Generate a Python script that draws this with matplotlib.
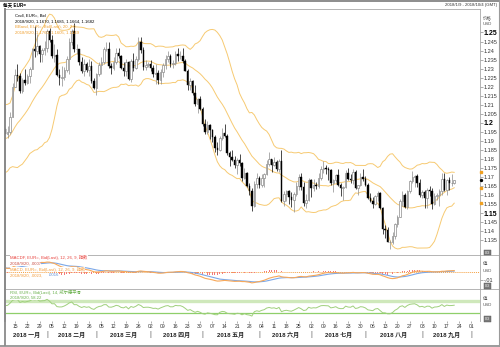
import numpy as np
import pandas as pd
import matplotlib
matplotlib.use('Agg')
import matplotlib.pyplot as plt
from matplotlib.lines import Line2D
from matplotlib.transforms import blended_transform_factory as btf

plt.rcParams['font.family'] = ['Liberation Sans', 'Noto Sans CJK SC', 'DejaVu Sans']

# ---------------- data (EUR= daily bid, 2018/1/9 - 2018/9/20) ----------------
opens = [
    # Jan
    1.1968, 1.1937, 1.1948, 1.2033, 1.2200, 1.2264, 1.2262, 1.2178, 1.2238, 1.2222, 1.2260, 1.2300, 1.2408, 1.2397, 1.2428, 1.2383, 1.2403,
    # Feb
    1.2414, 1.2510, 1.2458, 1.2372, 1.2377, 1.2266, 1.2250, 1.2253, 1.2292, 1.2354, 1.2448, 1.2507, 1.2406, 1.2407, 1.2336, 1.2286, 1.2327, 1.2295, 1.2317, 1.2233,
    # Mar
    1.2194, 1.2269, 1.2318, 1.2337, 1.2406, 1.2410, 1.2313, 1.2306, 1.2337, 1.2388, 1.2368, 1.2306, 1.2288, 1.2336, 1.2240, 1.2341, 1.2301, 1.2354, 1.2446, 1.2404, 1.2308, 1.2322,
    # Apr
    1.2323, 1.2302, 1.2269, 1.2276, 1.2238, 1.2281, 1.2318, 1.2356, 1.2370, 1.2328, 1.2330, 1.2380, 1.2370, 1.2372, 1.2345, 1.2289, 1.2210, 1.2232, 1.2165, 1.2103, 1.2130,
    # May
    1.2079, 1.1991, 1.1951, 1.1988, 1.1960, 1.1920, 1.1863, 1.1852, 1.1917, 1.1943, 1.1926, 1.1833, 1.1809, 1.1795, 1.1768, 1.1792, 1.1780, 1.1694, 1.1720, 1.1653, 1.1623, 1.1538, 1.1663,
    # Jun
    1.1693, 1.1658, 1.1694, 1.1716, 1.1775, 1.1798, 1.1769, 1.1781, 1.1747, 1.1791, 1.1570, 1.1608, 1.1624, 1.1590, 1.1571, 1.1605, 1.1653, 1.1701, 1.1644, 1.1554, 1.1572,
    # Jul
    1.1684, 1.1640, 1.1658, 1.1650, 1.1695, 1.1744, 1.1751, 1.1745, 1.1741, 1.1670, 1.1685, 1.1710, 1.1658, 1.1640, 1.1643, 1.1720, 1.1691, 1.1684, 1.1728, 1.1640, 1.1657, 1.1700,
    # Aug
    1.1691, 1.1659, 1.1585, 1.1568, 1.1550, 1.1597, 1.1610, 1.1527, 1.1411, 1.1405, 1.1343, 1.1343, 1.1374, 1.1439, 1.1482, 1.1570, 1.1600, 1.1537, 1.1621, 1.1680, 1.1698, 1.1707, 1.1670,
    # Sep
    1.1600, 1.1620, 1.1582, 1.1628, 1.1624, 1.1552, 1.1594, 1.1600, 1.1624, 1.1690, 1.1626, 1.1685, 1.1667, 1.1670,
]
highs = [
    1.1979, 1.1985, 1.2060, 1.2219, 1.2296, 1.2323, 1.2276, 1.2250, 1.2297, 1.2268, 1.2310, 1.2414, 1.2537, 1.2493, 1.2433, 1.2414, 1.2451,
    1.2519, 1.2523, 1.2484, 1.2436, 1.2410, 1.2299, 1.2314, 1.2307, 1.2370, 1.2470, 1.2521, 1.2555, 1.2437, 1.2411, 1.2362, 1.2352, 1.2337, 1.2354, 1.2343, 1.2246,
    1.2274, 1.2335, 1.2365, 1.2417, 1.2446, 1.2447, 1.2333, 1.2363, 1.2412, 1.2413, 1.2376, 1.2336, 1.2354, 1.2345, 1.2351, 1.2388, 1.2370, 1.2476, 1.2476, 1.2417, 1.2348, 1.2336,
    1.2346, 1.2320, 1.2324, 1.2290, 1.2296, 1.2330, 1.2378, 1.2396, 1.2381, 1.2346, 1.2396, 1.2414, 1.2398, 1.2414, 1.2352, 1.2296, 1.2251, 1.2239, 1.2209, 1.2140, 1.2147,
    1.2090, 1.2023, 1.2013, 1.1995, 1.1966, 1.1934, 1.1896, 1.1927, 1.1973, 1.1996, 1.1937, 1.1842, 1.1849, 1.1815, 1.1806, 1.1830, 1.1781, 1.1749, 1.1727, 1.1666, 1.1640, 1.1676, 1.1723,
    1.1706, 1.1719, 1.1722, 1.1796, 1.1840, 1.1799, 1.1809, 1.1795, 1.1801, 1.1852, 1.1625, 1.1628, 1.1628, 1.1620, 1.1620, 1.1675, 1.1717, 1.1723, 1.1675, 1.1605, 1.1697,
    1.1692, 1.1690, 1.1673, 1.1720, 1.1764, 1.1791, 1.1765, 1.1758, 1.1747, 1.1689, 1.1719, 1.1744, 1.1670, 1.1652, 1.1739, 1.1750, 1.1717, 1.1745, 1.1742, 1.1658, 1.1720, 1.1747,
    1.1707, 1.1668, 1.1614, 1.1589, 1.1601, 1.1623, 1.1620, 1.1537, 1.1434, 1.1425, 1.1350, 1.1397, 1.1445, 1.1492, 1.1579, 1.1623, 1.1614, 1.1631, 1.1686, 1.1733, 1.1709, 1.1719, 1.1687,
    1.1629, 1.1628, 1.1640, 1.1653, 1.1642, 1.1611, 1.1612, 1.1634, 1.1720, 1.1721, 1.1690, 1.1700, 1.1718, 1.1685,
]
lows = [
    1.1916, 1.1916, 1.1936, 1.2030, 1.2198, 1.2229, 1.2165, 1.2166, 1.2210, 1.2215, 1.2221, 1.2298, 1.2366, 1.2377, 1.2338, 1.2335, 1.2378,
    1.2390, 1.2447, 1.2361, 1.2338, 1.2262, 1.2207, 1.2206, 1.2235, 1.2281, 1.2270, 1.2430, 1.2392, 1.2379, 1.2319, 1.2276, 1.2260, 1.2283, 1.2260, 1.2218, 1.2189,
    1.2155, 1.2257, 1.2273, 1.2324, 1.2397, 1.2302, 1.2273, 1.2292, 1.2325, 1.2360, 1.2298, 1.2259, 1.2261, 1.2236, 1.2228, 1.2289, 1.2297, 1.2341, 1.2388, 1.2291, 1.2290, 1.2310,
    1.2285, 1.2255, 1.2215, 1.2215, 1.2215, 1.2256, 1.2298, 1.2336, 1.2310, 1.2302, 1.2320, 1.2345, 1.2352, 1.2334, 1.2285, 1.2183, 1.2183, 1.2155, 1.2095, 1.2055, 1.2070,
    1.1985, 1.1938, 1.1938, 1.1911, 1.1895, 1.1838, 1.1822, 1.1844, 1.1903, 1.1923, 1.1822, 1.1763, 1.1789, 1.1750, 1.1717, 1.1760, 1.1676, 1.1687, 1.1645, 1.1603, 1.1510, 1.1532, 1.1640,
    1.1640, 1.1645, 1.1644, 1.1710, 1.1764, 1.1727, 1.1760, 1.1731, 1.1726, 1.1561, 1.1542, 1.1568, 1.1553, 1.1532, 1.1508, 1.1593, 1.1630, 1.1631, 1.1541, 1.1527, 1.1565,
    1.1592, 1.1621, 1.1632, 1.1639, 1.1685, 1.1722, 1.1717, 1.1686, 1.1655, 1.1616, 1.1675, 1.1648, 1.1595, 1.1575, 1.1637, 1.1685, 1.1669, 1.1660, 1.1633, 1.1603, 1.1652, 1.1680,
    1.1652, 1.1579, 1.1561, 1.1530, 1.1547, 1.1570, 1.1522, 1.1386, 1.1365, 1.1340, 1.1301, 1.1332, 1.1356, 1.1422, 1.1477, 1.1542, 1.1528, 1.1526, 1.1611, 1.1665, 1.1644, 1.1643, 1.1588,
    1.1582, 1.1531, 1.1529, 1.1593, 1.1525, 1.1545, 1.1571, 1.1540, 1.1602, 1.1621, 1.1600, 1.1627, 1.1652, 1.1664,
]
closes = [
    1.1937, 1.1948, 1.2033, 1.2200, 1.2264, 1.2262, 1.2178, 1.2238, 1.2222, 1.2260, 1.2300, 1.2408, 1.2397, 1.2428, 1.2383, 1.2403, 1.2414,
    1.2510, 1.2458, 1.2372, 1.2377, 1.2266, 1.2250, 1.2253, 1.2292, 1.2354, 1.2448, 1.2507, 1.2406, 1.2407, 1.2336, 1.2286, 1.2327, 1.2295, 1.2317, 1.2233, 1.2194,
    1.2269, 1.2318, 1.2337, 1.2406, 1.2410, 1.2313, 1.2306, 1.2337, 1.2388, 1.2368, 1.2306, 1.2288, 1.2336, 1.2240, 1.2341, 1.2301, 1.2354, 1.2446, 1.2404, 1.2308, 1.2322, 1.2323,
    1.2302, 1.2269, 1.2276, 1.2238, 1.2281, 1.2318, 1.2356, 1.2370, 1.2328, 1.2330, 1.2380, 1.2370, 1.2372, 1.2345, 1.2289, 1.2210, 1.2232, 1.2165, 1.2103, 1.2130, 1.2079,
    1.1991, 1.1951, 1.1988, 1.1960, 1.1920, 1.1863, 1.1852, 1.1917, 1.1943, 1.1926, 1.1833, 1.1809, 1.1795, 1.1768, 1.1792, 1.1780, 1.1694, 1.1720, 1.1653, 1.1623, 1.1538, 1.1663, 1.1693,
    1.1658, 1.1694, 1.1716, 1.1775, 1.1798, 1.1769, 1.1781, 1.1747, 1.1791, 1.1570, 1.1608, 1.1624, 1.1590, 1.1571, 1.1605, 1.1653, 1.1701, 1.1644, 1.1554, 1.1572, 1.1684,
    1.1640, 1.1658, 1.1650, 1.1695, 1.1744, 1.1751, 1.1745, 1.1741, 1.1670, 1.1685, 1.1710, 1.1658, 1.1640, 1.1643, 1.1720, 1.1691, 1.1684, 1.1728, 1.1640, 1.1657, 1.1700, 1.1691,
    1.1659, 1.1585, 1.1568, 1.1550, 1.1597, 1.1610, 1.1527, 1.1411, 1.1405, 1.1343, 1.1343, 1.1374, 1.1439, 1.1482, 1.1570, 1.1600, 1.1537, 1.1621, 1.1680, 1.1698, 1.1707, 1.1670, 1.1600,
    1.1620, 1.1582, 1.1628, 1.1624, 1.1552, 1.1594, 1.1600, 1.1624, 1.1690, 1.1626, 1.1685, 1.1667, 1.1670, 1.1682,
]
# closes before the visible range (2017/11/1 - 2018/1/8), used only to warm up the indicators
warmup_closes = [
    1.1621, 1.1656, 1.1608, 1.1608, 1.1591, 1.1592, 1.1651, 1.1664, 1.1665, 1.1795, 1.1794, 1.1771, 1.1792, 1.1734, 1.1735, 1.1823, 1.1849, 1.1930, 1.1895, 1.1844, 1.1845, 1.1901,
    1.1896, 1.1864, 1.1825, 1.1797, 1.1773, 1.1773, 1.1774, 1.1740, 1.1828, 1.1776, 1.1750, 1.1784, 1.1843, 1.1872, 1.1874, 1.1860, 1.1865, 1.1862, 1.1888, 1.1942, 1.2005,
    1.2010, 1.2059, 1.2016, 1.2068, 1.2029, 1.1968,
]
price_ticks = [1.135, 1.14, 1.145, 1.15, 1.155, 1.16, 1.165, 1.17, 1.175, 1.18, 1.185, 1.19, 1.195,
               1.2, 1.205, 1.21, 1.215, 1.22, 1.225, 1.23, 1.235, 1.24, 1.245, 1.25]
bold_ticks = ['1.25', '1.2', '1.15']
month_names = ['2018 一月', '2018 二月', '2018 三月', '2018 四月', '2018 五月',
               '2018 六月', '2018 七月', '2018 八月', '2018 九月']

# ---------------- indicators ----------------
O = np.array(opens); Hh = np.array(highs); Ll = np.array(lows); C = np.array(closes)
n = len(C)
dates = pd.bdate_range('2018-01-09', periods=n)
axis_dates = pd.bdate_range('2018-01-09', '2018-10-04')
allc = pd.Series(warmup_closes + closes)
k = len(warmup_closes)
mid = allc.rolling(20).mean()
sd = allc.rolling(20).std(ddof=0)
upper = (mid + 2 * sd).values[k:]
lower = (mid - 2 * sd).values[k:]
mid = mid.values[k:]
ema12 = allc.ewm(span=12, adjust=False).mean()
ema26 = allc.ewm(span=26, adjust=False).mean()
macd = ema12 - ema26
sig = macd.ewm(span=9, adjust=False).mean()
hist = (macd - sig).values[k:]
macd = macd.values[k:]
sig = sig.values[k:]
d = allc.diff()
ag = d.clip(lower=0).ewm(alpha=1 / 14, adjust=False).mean()
al = (-d.clip(upper=0)).ewm(alpha=1 / 14, adjust=False).mean()
rsi = (100 - 100 / (1 + ag / al)).values[k:]

# ---------------- figure ----------------
W, H = 500, 347
fig = plt.figure(figsize=(W / 100, H / 100), dpi=100)
fig.patch.set_facecolor('white')


def fx(x):
    return x / W


def fy(y):
    return 1 - y / H


L, R = 5, 480
ax = fig.add_axes([fx(L), fy(255), fx(R - L), (255 - 9) / H])
axm = fig.add_axes([fx(L), fy(289), fx(R - L), (289 - 255) / H])
axr = fig.add_axes([fx(L), fy(321), fx(R - L), (321 - 289) / H])

x = np.arange(n)
XL = (-0.05, 192.45)
grey = '#a8a8a8'
for a in (ax, axm, axr):
    a.set_xlim(*XL)
    a.set_facecolor('white')
    for s in ('top', 'right', 'bottom'):
        a.spines[s].set_color(grey)
        a.spines[s].set_linewidth(0.6)
    a.spines['left'].set_color('#8a8a8a')
    a.spines['left'].set_linewidth(1.3)
    a.yaxis.tick_right()
    a.tick_params(axis='y', length=2, width=0.4, color='#707070', pad=0.8,
                  labelsize=4.0, labelcolor='#333333')
    a.tick_params(axis='x', bottom=False, labelbottom=False)
axr.spines['bottom'].set_visible(False)

# ---- candles ----
up = C >= O
dn = ~up
ax.vlines(x[up], Ll[up], Hh[up], color='#8c8c8c', lw=0.5, zorder=2)
ax.vlines(x[dn], Ll[dn], Hh[dn], color='black', lw=0.5, zorder=2)
ax.bar(x[up], (C - O)[up], bottom=O[up], width=0.62, facecolor='white',
       edgecolor='#8c8c8c', lw=0.5, zorder=3)
ax.bar(x[dn], (O - C)[dn], bottom=C[dn], width=0.62, facecolor='black',
       edgecolor='black', lw=0.3, zorder=3)
bbc = '#f7ca72'
ax.plot(x, upper, color=bbc, lw=0.7, zorder=1)
ax.plot(x, mid, color=bbc, lw=0.7, zorder=1)
ax.plot(x, lower, color=bbc, lw=0.7, zorder=1)
ax.set_ylim(1.1269, 1.2630)
ax.set_yticks(price_ticks)
ax.set_yticklabels([f'{v:g}' for v in price_ticks])
for lab in ax.get_yticklabels():
    if lab.get_text() in bold_ticks:
        lab.set_fontweight('bold')
        lab.set_fontsize(5.0)
        lab.set_color('black')
# current value markers on the axis
ax.plot([192.9] * 3, [upper[-1], mid[-1], lower[-1]], 's', ms=1.6, color='#f0a020',
        clip_on=False, zorder=5)
ax.plot([192.9], [C[-1]], 'o', ms=1.4, color='black', clip_on=False, zorder=5)

fs = 3.1
ax_txt = dict(fontsize=fs, va='center', ha='left')
fig.text(fx(15), fy(16), 'Cndl, EUR=, Bid', color='black', **ax_txt)
fig.text(fx(15), fy(21.5), f"{dates[-1].year}/{dates[-1].month}/{dates[-1].day}, "
         f"{O[-1]:.4f}, {Hh[-1]:.4f}, {Ll[-1]:.4f}, {C[-1]:.4f}", color='black', **ax_txt)
fig.text(fx(15), fy(27), 'BBand, EUR=, Bid(Last), 20, 2.0', color='#f0a030', **ax_txt)
fig.text(fx(15), fy(32.5), '2018/9/20, 1.1760, 1.1605, 1.1449', color='#f0a030', **ax_txt)

# ---- MACD ----
axm.bar(x, hist, width=0.35, color='#f27a7a', lw=0, zorder=2)
axm.axhline(0, color='#f5a040', lw=0.7, ls=(0, (1, 1)), zorder=1)
axm.plot(x, sig, color='#7ca8e8', lw=0.8, zorder=3)
axm.plot(x, macd, color='#f7a85a', lw=0.8, zorder=3)
axm.set_ylim(-0.0217, 0.0225)
axm.set_yticks([-0.01])
axm.set_yticklabels(['-.01'])
bb = dict(facecolor='white', edgecolor='none', pad=0.2)
fig.text(fx(10), fy(257.5), 'MACDF, EUR=, Bid(Last), 12, 26, 9, 指数', color='#e8413c', bbox=bb, **ax_txt)
fig.text(fx(10), fy(263.3), '2018/9/20, .0007', color='#c84a40', bbox=bb, **ax_txt)
fig.text(fx(10), fy(269.3), 'MACD, EUR=, Bid(Last), 12, 26, 9, 指数', color='#f39c3c', bbox=bb, **ax_txt)
fig.text(fx(10), fy(275.3), '2018/9/20, .0023, ', color='#f39c3c', bbox=bb, **ax_txt)
fig.text(fx(48.5), fy(275.3), '.0016', color='#5b8fd9', bbox=bb, **ax_txt)

# ---- RSI ----
axr.axhline(70, color='#cfe8bb', lw=2.4, zorder=1)
axr.axhline(30, color='#8fcf6a', lw=0.9, zorder=1)
axr.plot(x, rsi, color='#9fd07c', lw=0.7, zorder=2)
axr.set_ylim(3.4, 110.3)
axr.set_yticks([])
fig.text(fx(10), fy(292.3), 'RSI, EUR=, Bid(Last), 14, 威尔德平滑', color='#6ab04c', bbox=bb, **ax_txt)
fig.text(fx(10), fy(297.7), '2018/9/20, 58.22', color='#6ab04c', bbox=bb, **ax_txt)

# right-side unit labels and panel icons
rt = dict(fontsize=3.2, color='#555555', ha='left', va='center')
fig.text(fx(483), fy(18), '价格', **rt)
fig.text(fx(483), fy(24), 'USD', **rt)
fig.text(fx(483), fy(264), '值', **rt)
fig.text(fx(483), fy(271.5), 'USD', **rt)
fig.text(fx(483), fy(299), '值', **rt)
fig.text(fx(483), fy(304.5), 'USD', **rt)
for yy in (252.5, 286, 319):
    fig.text(fx(487.5), fy(yy), '0/3', fontsize=2.6, color='white', ha='center', va='center',
             bbox=dict(boxstyle='square,pad=0.25', fc='#7a7a7a', ec='#505050', lw=0.3))

# ---- x axis: Mondays + month labels ----
mondays = [i for i, dd in enumerate(axis_dates) if dd.dayofweek == 0]
axr.set_xticks(mondays)
axr.set_xticklabels([f'{axis_dates[i].day:02d}' for i in mondays])
axr.tick_params(axis='x', bottom=True, labelbottom=True, length=1.5, width=0.4,
                color='#707070', pad=0.6, labelsize=3.6, labelcolor='#333333')

tr = btf(axr.transData, fig.transFigure)
month_start = [i for i in range(len(axis_dates))
               if i == 0 or axis_dates[i].month != axis_dates[i - 1].month]
for j, name in enumerate(month_names):
    a0 = month_start[j]
    a1 = month_start[j + 1]
    fig.text((a0 + a1) / 2, fy(335), name, transform=tr, fontsize=4.3, fontweight='bold',
             ha='center', va='center', color='#222222')
for a1 in month_start[1:]:
    fig.text(a1, fy(335), '|', transform=tr, fontsize=4.8, ha='center', va='center',
             color='#555555')

# ---- frame lines ----
def fline(x0, y0, x1, y1, c, lw):
    fig.add_artist(Line2D([fx(x0), fx(x1)], [fy(y0), fy(y1)], color=c, lw=lw,
                          transform=fig.transFigure))

fline(0, 0.6, 500, 0.6, '#7a7a7a', 1.2)
fline(5, 9, 5, 345, '#8a8a8a', 1.3)
fline(480, 255, 500, 255, grey, 0.6)
fline(480, 289, 500, 289, grey, 0.6)
fline(0, 346, 500, 346, '#8a8a8a', 1.2)
fline(499.3, 0, 499.3, 347, '#9a9a9a', 0.8)

# title bar
fig.text(fx(3), fy(4.8), '每天 EUR=', fontsize=3.3, fontweight='bold', va='center', ha='left')
fig.text(fx(497), fy(4.8), '2018/1/9 - 2018/10/4 (GMT)', fontsize=3.1, va='center', ha='right',
         color='#333333')

fig.savefig('out.png', dpi=100, facecolor='white')
